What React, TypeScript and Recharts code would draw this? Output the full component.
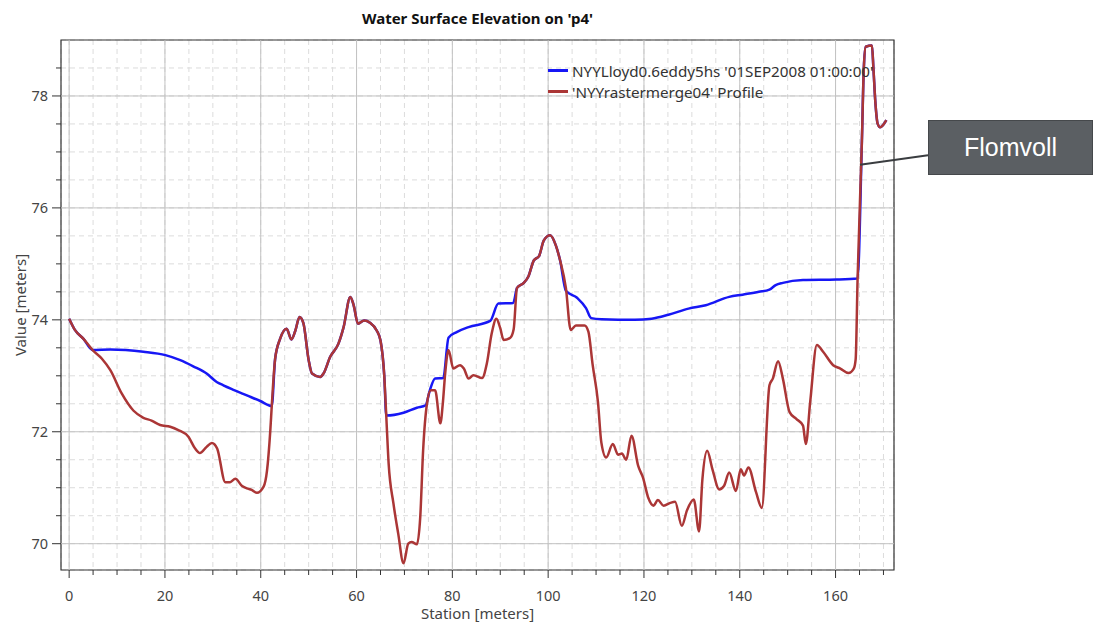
import React from "react";
import {
  LineChart,
  Line,
  XAxis,
  YAxis,
  CartesianGrid,
  ReferenceLine,
  ReferenceArea,
} from "recharts";

// terrain profile (red)
const profileStation = [
  0.0, 1.2, 3.0, 4.9, 6.8, 8.6, 11.0, 13.4, 15.5, 17.2, 19.0, 21.1, 22.8, 24.9, 26.3, 27.3,
  28.7, 29.8, 30.9, 32.6, 33.6, 34.7, 36.1, 37.1, 38.1, 39.2, 40.6, 41.3, 42.0, 42.3, 43.0,
  44.0, 45.4, 46.4, 47.2, 48.1, 48.9, 50.0, 50.7, 52.4, 53.1, 54.5, 56.2, 57.3, 58.7, 59.4,
  60.3, 61.6, 62.8, 64.2, 65.0, 65.8, 66.2, 66.7, 67.7, 68.7, 69.8, 70.8, 71.5, 72.6, 73.3,
  73.9, 74.7, 75.5, 76.4, 77.5, 78.0, 78.5, 79.2, 80.2, 81.6, 82.4, 83.4, 84.4, 86.2, 87.2,
  88.2, 89.2, 90.0, 90.7, 92.1, 92.8, 93.5, 94.9, 95.9, 97.0, 98.1, 99.1, 100.4, 101.6,
  102.5, 103.7, 104.7, 105.8, 107.6, 108.4, 109.3, 110.4, 111.1, 112.1, 113.5, 114.6, 115.4,
  116.3, 117.4, 118.8, 119.8, 120.9, 122.0, 122.9, 124.1, 125.5, 126.5, 127.9, 129.0, 130.4,
  131.5, 132.2, 133.2, 134.3, 135.7, 136.7, 137.8, 139.2, 140.2, 140.9, 141.8, 143.4, 144.6,
  146.2, 146.9, 148.0, 149.0, 150.4, 151.8, 153.2, 153.8, 154.7, 156.1, 157.4, 159.5, 161.0,
  162.7, 163.8, 164.2, 164.6, 165.5, 165.9, 166.3, 167.6, 167.9, 168.3, 168.8, 169.3, 169.9,
  170.6,
];
const profileElev = [
  74.02, 73.82, 73.66, 73.46, 73.31, 73.1, 72.68, 72.38, 72.25, 72.2, 72.12, 72.09, 72.03,
  71.91, 71.7, 71.62, 71.73, 71.8, 71.7, 71.1, 71.1, 71.16, 71.03, 70.99, 70.96, 70.91, 71.02,
  71.3, 72.03, 72.46, 73.3, 73.65, 73.84, 73.65, 73.8, 74.05, 73.94, 73.28, 73.04, 72.98,
  73.04, 73.34, 73.57, 73.87, 74.41, 74.26, 73.93, 73.99, 73.95, 73.81, 73.63, 72.98, 72.29,
  71.43, 70.72, 70.18, 69.65, 70.0, 70.03, 69.99, 70.48, 71.67, 72.5, 72.74, 72.74, 72.15,
  72.5, 73.04, 73.46, 73.13, 73.19, 73.13, 72.95, 73.01, 72.96, 73.22, 73.75, 74.02, 73.85,
  73.64, 73.68, 73.83, 74.57, 74.66, 74.78, 75.06, 75.14, 75.42, 75.51, 75.33, 75.06, 74.57,
  73.82, 73.9, 73.9, 73.79, 73.19, 72.53, 71.81, 71.54, 71.78, 71.59, 71.61, 71.5, 71.93,
  71.39, 71.18, 70.82, 70.68, 70.78, 70.68, 70.73, 70.75, 70.32, 70.6, 70.79, 70.22, 71.15,
  71.66, 71.33, 70.97, 71.03, 71.27, 70.94, 71.33, 71.22, 71.36, 70.92, 70.64, 72.83, 72.95,
  73.26, 72.95, 72.35, 72.23, 72.11, 71.78, 72.53, 73.55, 73.43, 73.19, 73.13, 73.05, 73.13,
  73.3, 74.74, 77.2, 78.5, 78.88, 78.9, 78.5, 77.9, 77.5, 77.44, 77.48, 77.57,
];

// simulated water surface (blue)
const wseStation = [
  0.0, 1.2, 3.0, 4.9, 8.6, 15.5, 20.1, 23.2, 25.9, 28.7, 30.8, 32.2, 34.3, 37.1, 39.9, 42.3,
  43.0, 44.0, 45.4, 46.4, 47.2, 48.1, 48.9, 50.0, 50.7, 52.4, 53.1, 54.5, 56.2, 57.3, 58.7,
  59.4, 60.3, 61.6, 62.8, 64.2, 65.0, 65.8, 66.2, 69.8, 72.6, 74.4, 75.3, 76.4, 78.1, 79.2,
  80.9, 83.4, 87.9, 89.6, 92.7, 93.5, 94.9, 95.9, 97.0, 98.1, 99.1, 100.4, 101.6, 102.5,
  103.7, 106.1, 107.9, 109.0, 111.1, 118.1, 121.6, 125.1, 129.3, 132.9, 137.8, 140.6, 144.0,
  146.2, 147.5, 149.0, 153.2, 160.2, 164.6, 165.5, 165.9, 166.3, 167.6, 167.9, 168.3, 168.8,
  169.3, 169.9, 170.6,
];
const wseElev = [
  74.02, 73.82, 73.66, 73.46, 73.47, 73.43, 73.37, 73.28, 73.17, 73.04, 72.89, 72.83, 72.75,
  72.65, 72.55, 72.46, 73.3, 73.65, 73.84, 73.65, 73.8, 74.05, 73.94, 73.28, 73.04, 72.98,
  73.04, 73.34, 73.57, 73.87, 74.41, 74.26, 73.93, 73.99, 73.95, 73.81, 73.63, 72.98, 72.29,
  72.34, 72.43, 72.47, 72.74, 72.95, 72.96, 73.68, 73.78, 73.87, 73.98, 74.29, 74.3, 74.57,
  74.66, 74.78, 75.06, 75.14, 75.42, 75.51, 75.33, 75.06, 74.52, 74.39, 74.21, 74.03, 74.01,
  74.0, 74.02, 74.09, 74.2, 74.26, 74.41, 74.45, 74.5, 74.54, 74.62, 74.66, 74.71, 74.72,
  74.74, 77.2, 78.5, 78.88, 78.9, 78.5, 77.9, 77.5, 77.44, 77.48, 77.57,
];

const xTicks = [
  0, 5, 10, 15, 20, 25, 30, 35, 40, 45, 50, 55, 60, 65, 70, 75, 80, 85, 90, 95, 100, 105, 110,
  115, 120, 125, 130, 135, 140, 145, 150, 155, 160, 165, 170,
];
const yTicks = [
  70, 70.5, 71, 71.5, 72, 72.5, 73, 73.5, 74, 74.5, 75, 75.5, 76, 76.5, 77, 77.5, 78, 78.5,
];
const xMajor = [0, 20, 40, 60, 80, 100, 120, 140, 160];
const yMajor = [70, 72, 74, 76, 78];

const seriesNames = [
  "NYYLloyd0.6eddy5hs '01SEP2008 01:00:00'",
  "'NYYrastermerge04' Profile",
];
const calloutText = "Flomvoll";
const calloutFrom = { x: 165.1, y: 76.77 };
const calloutTo = { x: 179.3, y: 76.94 };

const X_DOMAIN = [-1.7, 172.2];
const Y_DOMAIN = [69.53, 79.0];

const BLUE = "#1717f5";
const RED = "#ab3636";
const FONT = "'Noto Sans', 'Open Sans', sans-serif";

const profileData = profileStation.map((s, i) => ({ station: s, elev: profileElev[i] }));
const wseData = wseStation.map((s, i) => ({ station: s, elev: wseElev[i] }));

function XTick({ x, y, payload }: any) {
  const v = payload.value;
  const major = v % 20 === 0;
  return (
    <g>
      <line x1={x} y1={y} x2={x} y2={y + (major ? 8 : 5)} stroke="#333" />
      {major && (
        <text x={x} y={y + 31} textAnchor="middle" fill="#444" fontSize={14.5} fontFamily={FONT}>
          {v}
        </text>
      )}
    </g>
  );
}

function YTick({ x, y, payload }: any) {
  const v = payload.value;
  const major = v % 2 === 0;
  return (
    <g>
      <line x1={x - (major ? 9 : 5)} y1={y} x2={x} y2={y} stroke="#333" />
      {major && (
        <text x={x - 13} y={y + 5} textAnchor="end" fill="#444" fontSize={14.5} fontFamily={FONT}>
          {v}
        </text>
      )}
    </g>
  );
}

export default function App() {
  return (
    <div
      style={{
        position: "absolute",
        left: 0,
        top: 0,
        width: 1093,
        height: 625,
        background: "#fff",
        fontFamily: FONT,
      }}
    >
      <LineChart width={1093} height={625} margin={{ top: 40, right: 199, bottom: 0, left: 0 }}>
        <CartesianGrid stroke="#dcdcdc" strokeDasharray="5 4" />
        {xMajor.map((v) => (
          <ReferenceLine key={"vx" + v} x={v} stroke="#c2c2c2" />
        ))}
        {yMajor.map((v) => (
          <ReferenceLine key={"hy" + v} y={v} stroke="#c2c2c2" />
        ))}
        <XAxis
          dataKey="station"
          type="number"
          domain={X_DOMAIN}
          ticks={xTicks}
          allowDataOverflow
          height={55}
          tickSize={0}
          tickMargin={0}
          tickLine={false}
          axisLine={false}
          tick={<XTick />}
          interval={0}
        />
        <YAxis
          type="number"
          domain={Y_DOMAIN}
          ticks={yTicks}
          allowDataOverflow
          width={61}
          tickSize={0}
          tickMargin={0}
          tickLine={false}
          axisLine={false}
          tick={<YTick />}
          interval={0}
        />
        <Line
          data={wseData}
          dataKey="elev"
          type="monotone"
          stroke={BLUE}
          strokeWidth={2.5}
          dot={false}
          isAnimationActive={false}
        />
        <Line
          data={profileData}
          dataKey="elev"
          type="monotone"
          stroke={RED}
          strokeWidth={2.5}
          dot={false}
          isAnimationActive={false}
        />
        <ReferenceArea
          x1={X_DOMAIN[0]}
          x2={X_DOMAIN[1]}
          y1={Y_DOMAIN[0]}
          y2={Y_DOMAIN[1]}
          fill="none"
          stroke="#333"
          strokeWidth={1.2}
          ifOverflow="visible"
        />
        <ReferenceLine
          segment={[calloutFrom, calloutTo]}
          stroke="#3a3d40"
          strokeWidth={2}
          ifOverflow="visible"
        />
      </LineChart>

      <div
        style={{
          position: "absolute",
          left: 0,
          width: 955,
          top: 8,
          textAlign: "center",
          fontWeight: 700,
          fontSize: 15,
          color: "#111",
        }}
      >
        Water Surface Elevation on 'p4'
      </div>

      <div
        style={{
          position: "absolute",
          left: 61,
          width: 833,
          top: 603,
          textAlign: "center",
          fontSize: 15,
          color: "#444",
        }}
      >
        Station [meters]
      </div>

      <div
        style={{
          position: "absolute",
          left: 20,
          top: 305,
          transform: "translate(-50%, -50%) rotate(-90deg)",
          whiteSpace: "nowrap",
          fontSize: 15,
          color: "#444",
        }}
      >
        Value [meters]
      </div>

      <div style={{ position: "absolute", left: 548, top: 60, fontSize: 15.2, color: "#333" }}>
        {seriesNames.map((name, i) => (
          <div key={name} style={{ display: "flex", alignItems: "center", height: 21 }}>
            <span
              style={{
                display: "inline-block",
                width: 20,
                height: 3,
                background: i === 0 ? BLUE : RED,
                marginRight: 4,
              }}
            />
            <span style={{ whiteSpace: "nowrap" }}>{name}</span>
          </div>
        ))}
      </div>

      <div
        style={{
          position: "absolute",
          left: 928,
          top: 120,
          width: 165,
          height: 55,
          boxSizing: "border-box",
          background: "#5b5f63",
          border: "1px solid #45484b",
          color: "#fff",
          fontFamily: "'Liberation Sans', Arial, sans-serif",
          fontSize: 25,
          display: "flex",
          alignItems: "center",
          justifyContent: "center",
        }}
      >
        {calloutText}
      </div>
    </div>
  );
}
